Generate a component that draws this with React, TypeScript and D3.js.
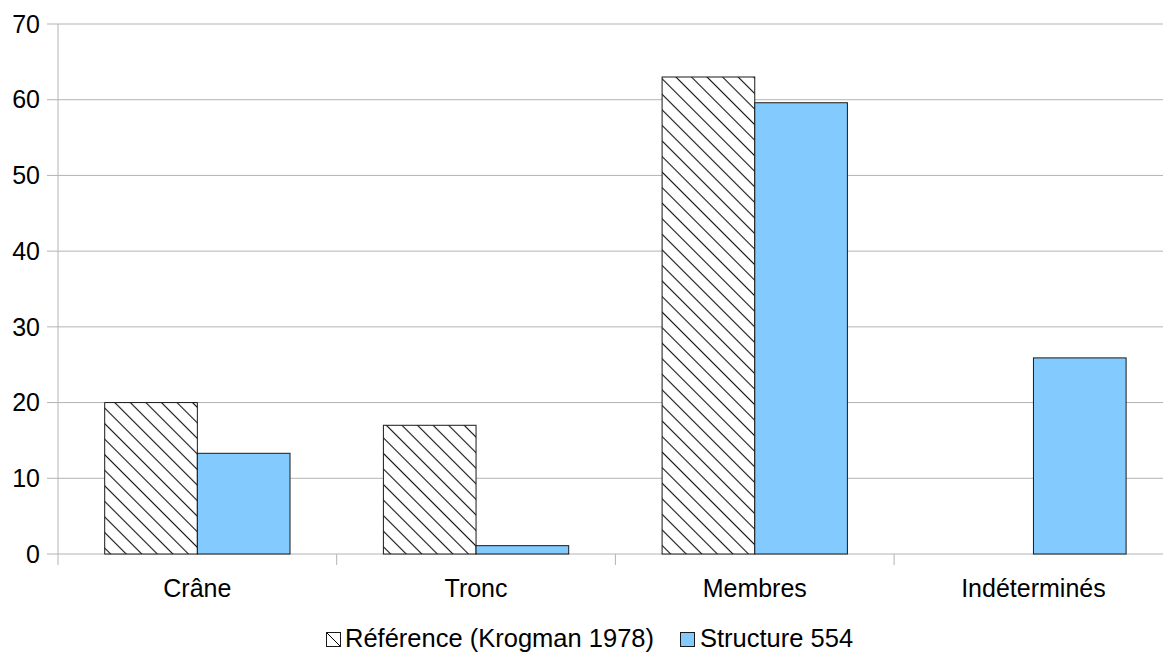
import React from "react";
import * as d3 from "d3";

const categories = ["Crâne", "Tronc", "Membres", "Indéterminés"];
const seriesNames = ["Référence (Krogman 1978)", "Structure 554"];
const referenceValues: (number | null)[] = [20, 17, 63, null];
const structureValues: number[] = [13.3, 1.1, 59.6, 25.9];
const yTicks = [0, 10, 20, 30, 40, 50, 60, 70];

const W = 1163;
const H = 653;
const left = 58;
const bandW = 278.7;
const top = 24;
const bottom = 554;
const FONT = "'Liberation Sans', Arial, sans-serif";
const BLUE = "#83caff";
const FS = 25;
const LFS = 25.5;
const HP = 11;

export default function App() {
  const x = d3
    .scaleBand<string>()
    .domain(categories)
    .range([left, left + bandW * categories.length])
    .paddingInner(0)
    .paddingOuter(0);
  const inner = d3
    .scaleBand<string>()
    .domain(seriesNames)
    .range([0, x.bandwidth()])
    .paddingOuter(0.504)
    .paddingInner(0);
  const y = d3.scaleLinear().domain([0, 70]).range([bottom, top]);
  const boundaries = categories.map((c) => x(c) as number);

  return (
    <svg
      width={W}
      height={H}
      style={{ position: "absolute", left: 0, top: 0, background: "#fff" }}
      fontFamily={FONT}
    >
      <defs>
        <pattern
          id="hatch"
          patternUnits="userSpaceOnUse"
          width={HP}
          height={HP}
          patternTransform="rotate(45)"
        >
          <rect width={HP} height={HP} fill="#fff" />
          <line x1={0} y1={HP / 2} x2={HP} y2={HP / 2} stroke="#111" strokeWidth={1.1} />
        </pattern>
      </defs>
      {yTicks.map((t) => (
        <line
          key={t}
          x1={47}
          x2={W}
          y1={y(t)}
          y2={y(t)}
          stroke="#b3b3b3"
          strokeWidth={1}
        />
      ))}
      <line x1={left} x2={left} y1={top} y2={565} stroke="#b3b3b3" strokeWidth={1} />
      {boundaries.slice(1).map((b, i) => (
        <line key={i} x1={b} x2={b} y1={bottom} y2={565} stroke="#b3b3b3" strokeWidth={1} />
      ))}
      {yTicks.map((t) => (
        <text
          key={t}
          x={40}
          y={y(t)}
          dy="0.35em"
          textAnchor="end"
          fontSize={FS}
          fill="#000"
        >
          {t}
        </text>
      ))}
      {categories.map((c, i) => {
        const bx = x(c) as number;
        const rv = referenceValues[i];
        const sv = structureValues[i];
        return (
          <g key={c}>
            {rv != null && (
              <rect
                x={bx + (inner(seriesNames[0]) as number)}
                y={y(rv)}
                width={inner.bandwidth()}
                height={y(0) - y(rv)}
                fill="url(#hatch)"
                stroke="#1a1a1a"
                strokeWidth={1}
              />
            )}
            <rect
              x={bx + (inner(seriesNames[1]) as number)}
              y={y(sv)}
              width={inner.bandwidth()}
              height={y(0) - y(sv)}
              fill={BLUE}
              stroke="#1a1a1a"
              strokeWidth={1}
            />
          </g>
        );
      })}
      {categories.map((c) => (
        <text
          key={c}
          x={(x(c) as number) + x.bandwidth() / 2}
          y={597}
          textAnchor="middle"
          fontSize={FS}
          fill="#000"
        >
          {c}
        </text>
      ))}
      <g>
        <rect x={326.5} y={632.5} width={14} height={14} fill="#fff" stroke="#1a1a1a" strokeWidth={1} />
        <line x1={327} y1={633} x2={340} y2={646} stroke="#000" strokeWidth={1} />
        <text x={345} y={647} fontSize={LFS} fill="#000">
          {seriesNames[0]}
        </text>
        <rect x={680.5} y={632.5} width={14} height={14} fill={BLUE} stroke="#1a1a1a" strokeWidth={1} />
        <text x={700} y={647} fontSize={LFS} fill="#000">
          {seriesNames[1]}
        </text>
      </g>
    </svg>
  );
}
